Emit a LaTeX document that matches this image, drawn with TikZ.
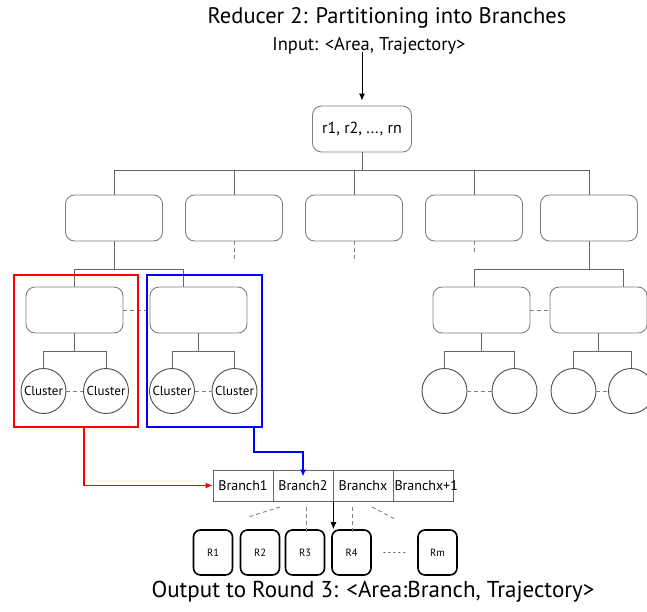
\documentclass[tikz,border=0pt]{standalone}
\usepackage{fontspec}
\setmainfont{PT Sans}
\usetikzlibrary{arrows.meta}
\begin{document}
\begin{tikzpicture}[x=1pt,y=-1pt,
  box/.style={draw=black!50, line width=0.9pt, rounded corners=9pt, minimum width=97pt, minimum height=46pt, inner sep=0pt},
  circ/.style={draw=black!70, line width=0.9pt, circle, minimum size=45pt, inner sep=0pt, font=\fontsize{13}{14}\selectfont},
  conn/.style={draw=black!60, line width=0.9pt},
  dsh/.style={draw=black!50, line width=0.9pt, dash pattern=on 4pt off 3pt},
  cell/.style={draw=black!60, line width=0.8pt, minimum width=60pt, minimum height=31pt, inner sep=0pt, font=\fontsize{14}{15}\selectfont},
  rnode/.style={draw=black, line width=1.6pt, rounded corners=7pt, minimum width=39pt, minimum height=45pt, inner sep=0pt, font=\fontsize{10.5}{11}\selectfont},
  redl/.style={draw=red, line width=1.8pt},
  bluel/.style={draw=blue, line width=1.8pt},
  tip/.style={-{Latex[length=7pt,width=6pt]}},
]
\clip (0,0) rectangle (647,611);
% titles
\node (title) at (387,18) {\fontsize{22.5}{26}\selectfont Reducer 2: Partitioning into Branches};
\node (inp) at (369,46) {\fontsize{18.5}{20}\selectfont Input: <Area, Trajectory>};
\node[box, minimum width=99pt, font=\fontsize{16}{18}\selectfont] (root) at (362,129) {r1, r2, ..., rn};
\draw[black, line width=0.9pt, tip, shorten >=5pt] ([yshift=6pt]inp.south -| root.north) -- (root.north);

% level 1
\foreach \i/\x in {1/114,2/234,3/354,4/474,5/589} \node[box] (b\i) at (\x,218) {};
\coordinate (bus1) at (0,170);
\draw[conn] (root.south) -- (root.south |- bus1);
\draw[conn] (b1.north) -- (b1.north |- bus1) -| (b5.north);
\foreach \i in {2,3,4} \draw[conn] (b\i.north) -- (b\i.north |- bus1);
\draw[dsh] (b2.south) -- ++(0,21);
\draw[dsh] (b3.south) -- ++(0,21);
\draw[dsh] (b4.south) -- ++(0,11);

% level 2
\node[box] (L1) at (74.5,310) {};
\node[box] (L2) at (198.5,310) {};
\node[box] (R1b) at (481.5,310) {};
\node[box] (R2b) at (598.5,310) {};
\coordinate (bus2) at (0,269);
\draw[conn] (b1.south) -- (b1.south |- bus2);
\draw[conn] (L1.north) -- (L1.north |- bus2) -| ([xshift=-15.5pt]L2.north);
\draw[conn] (b5.south) -- (b5.south |- bus2);
\draw[conn] ([xshift=-7.5pt]R1b.north) -- ([xshift=-7.5pt]R1b.north |- bus2) -| ([xshift=24.5pt]R2b.north);
\draw[dsh] (L1.east) -- (L2.west);
\draw[dsh] (R1b.east) -- (R2b.west);

% clusters
\node[circ] (c1) at (43.5,391) {Cluster};
\node[circ] (c2) at (106,391) {Cluster};
\node[circ] (c3) at (172,391) {Cluster};
\node[circ] (c4) at (234.5,391) {Cluster};
\node[circ] (c5) at (444.5,391) {};
\node[circ] (c6) at (514.5,391) {};
\node[circ] (c7) at (573.5,391) {};
\node[circ] (c8) at (631,391) {};
\coordinate (bus3) at (0,351);
\foreach \p/\a/\b in {L1/c1/c2,L2/c3/c4,R1b/c5/c6,R2b/c7/c8}{
  \draw[conn] (\p.south) -- (\p.south |- bus3);
  \draw[conn] (\a.north) -- (\a.north |- bus3) -| (\b.north);
  \draw[dsh] (\a.east) -- (\b.west);
}

% highlight boxes
\node[draw=red, line width=1.8pt, minimum width=124pt, minimum height=152pt, inner sep=0pt] (redbox) at (76,351) {};
\node[draw=blue, line width=1.8pt, minimum width=115pt, minimum height=152pt, inner sep=0pt] (bluebox) at (204.5,351) {};

% branch row
\node[cell] (br1) at (243,485.5) {Branch1};
\node[cell] (br2) at (303,485.5) {Branch2};
\node[cell] (br3) at (363,485.5) {Branchx};
\node[cell] (br4) at (423,485.5) {\hspace*{1pt}\makebox[58pt][l]{Branchx+1}};

\draw[redl, tip] ([xshift=8pt]redbox.south) |- (br1.west);
\draw[bluel, tip] ([xshift=49.5pt]bluebox.south) -- ++(0,24) -| ([yshift=-7pt]br2.north);

% R nodes
\node[rnode] (r1) at (213,552.5) {R1};
\node[rnode] (r2) at (260,552.5) {R2};
\node[rnode] (r3) at (305,552.5) {R3};
\node[rnode] (r4) at (351.5,552.5) {R4};
\node[rnode] (rm) at (437.5,552.5) {Rm};
\draw[black, line width=0.9pt, tip] (br2.south east) -- (br2.south east |- r4.north);
\draw[black!70, line width=0.9pt, dash pattern=on 1pt off 4pt, line cap=round] ([xshift=12pt]r4.east) -- ([xshift=-10pt]rm.west);

% dashed fan-out
\draw[dsh] (280,507) -- (248,517);
\draw[dsh] (306,507) -- (306,532);
\draw[dsh] (352,507) -- (352,532);
\draw[dsh] (372,507) -- (397,520);

\node (out) at (373,592) {\fontsize{23}{26}\selectfont Output to Round 3: <Area:Branch, Trajectory>};
\end{tikzpicture}
\end{document}
